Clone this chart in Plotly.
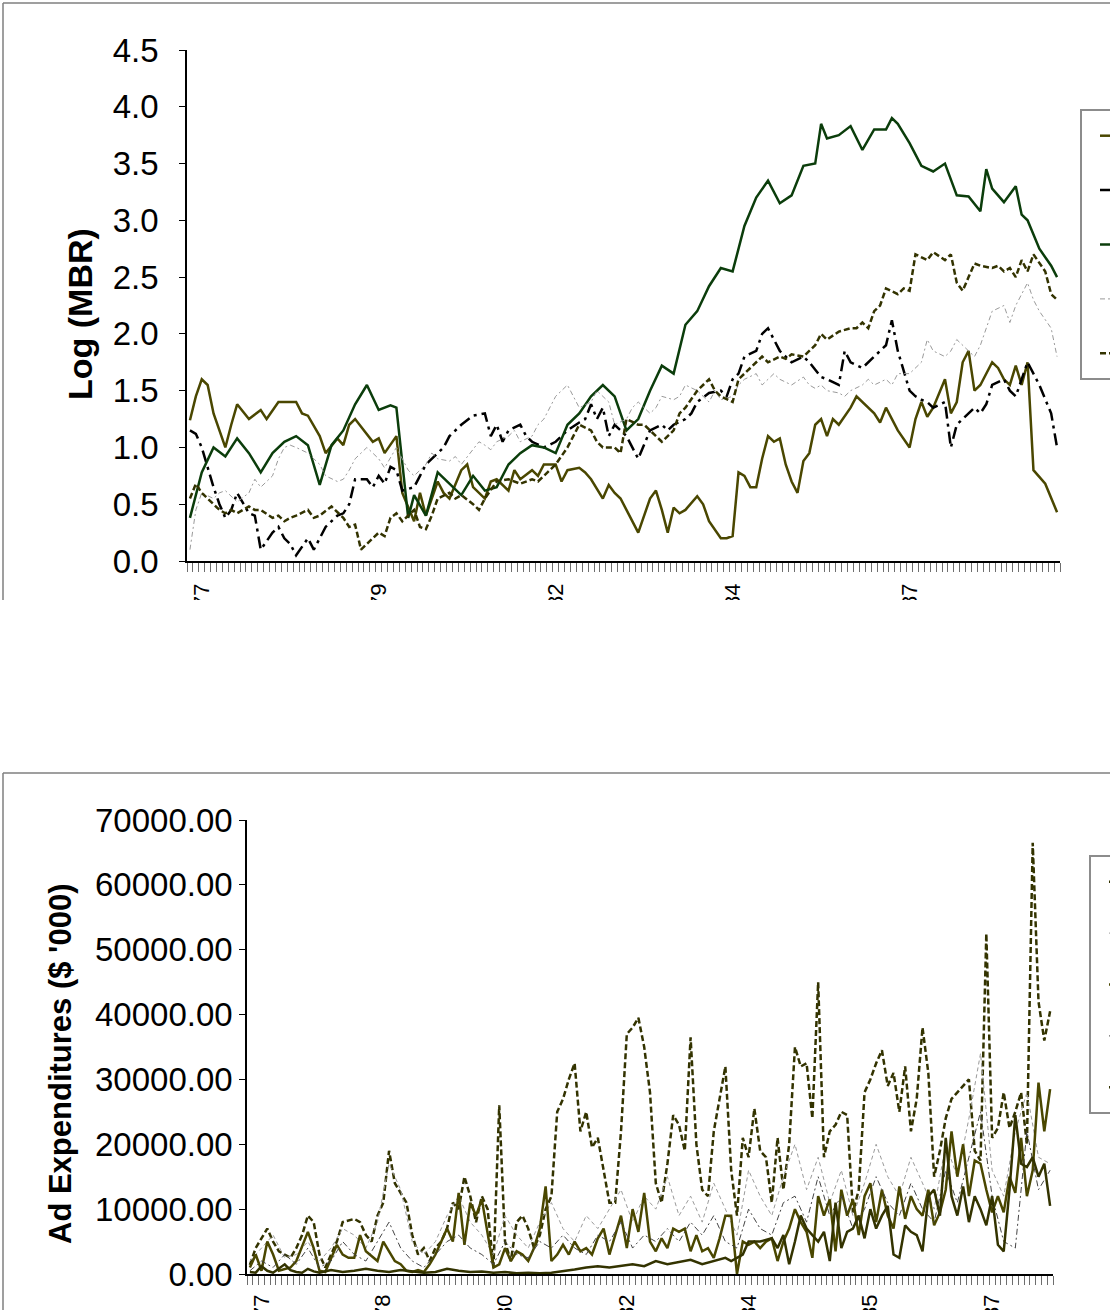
import plotly.graph_objects as go

W, H = 1110, 1310

# ---------------- Top panel: Log (MBR), 148 monthly periods ----------------
N_TOP = 148
top_tick_idx = [2, 32, 62, 92, 122]
top_tick_text = ["Jan-1977", "Jul-1979", "Jan-1982", "Jul-1984", "Jan-1987"]

mbr_green_idx = [0, 2, 4, 6, 8, 10, 12, 14, 16, 18, 20, 22, 24, 26, 28, 30, 32, 34, 35, 37, 38, 40,
                 42, 44, 46, 48, 50, 52, 54, 56, 58, 60, 62, 64, 66, 68, 70, 72, 74, 76, 78, 80, 82,
                 84, 86, 88, 90, 92, 94, 96, 98, 100, 102, 104, 106, 107, 108, 110, 112, 114, 116,
                 118, 119, 120, 122, 124, 126, 128, 130, 132, 134, 135, 136, 138, 140, 141, 142,
                 144, 146, 147]
mbr_green = [0.38, 0.78, 1.0, 0.92, 1.08, 0.95, 0.78, 0.95, 1.05, 1.1, 1.02, 0.67, 1.02, 1.15, 1.38,
             1.55, 1.33, 1.37, 1.35, 0.38, 0.58, 0.4, 0.78, 0.68, 0.58, 0.75, 0.62, 0.65, 0.85, 0.95,
             1.02, 1.0, 0.95, 1.2, 1.3, 1.45, 1.55, 1.45, 1.15, 1.25, 1.5, 1.72, 1.65, 2.08, 2.2,
             2.42, 2.58, 2.55, 2.95, 3.2, 3.35, 3.15, 3.22, 3.48, 3.5, 3.85, 3.72, 3.75, 3.83, 3.62,
             3.8, 3.8, 3.9, 3.85, 3.68, 3.48, 3.43, 3.5, 3.22, 3.21, 3.08, 3.45, 3.28, 3.16, 3.3,
             3.05, 3.0, 2.75, 2.6, 2.5]

mbr_olive_idx = [0, 1, 2, 3, 4, 6, 7, 8, 10, 12, 13, 15, 18, 19, 20, 22, 23, 25, 26, 27, 28, 30, 31,
                 32, 33, 35, 36, 38, 39, 40, 42, 43, 44, 46, 47, 48, 50, 51, 52, 54, 55, 56, 58, 59,
                 60, 62, 63, 64, 66, 67, 68, 70, 71, 72, 73, 74, 75, 76, 78, 79, 80, 81, 82, 83, 84,
                 86, 87, 88, 90, 91, 92, 93, 94, 95, 96, 97, 98, 99, 100, 101, 102, 103, 104, 105,
                 106, 107, 108, 109, 110, 112, 113, 114, 116, 117, 118, 120, 122, 123, 124, 125, 126,
                 128, 129, 130, 131, 132, 133, 134, 135, 136, 137, 138, 139, 140, 141, 142, 143, 145,
                 147]
mbr_olive = [1.24, 1.45, 1.6, 1.55, 1.3, 1.0, 1.2, 1.38, 1.25, 1.33, 1.25, 1.4, 1.4, 1.3, 1.28, 1.1,
             0.95, 1.08, 1.02, 1.2, 1.25, 1.12, 1.05, 1.08, 0.95, 1.1, 0.6, 0.35, 0.6, 0.4, 0.7, 0.6,
             0.55, 0.8, 0.85, 0.65, 0.55, 0.7, 0.72, 0.62, 0.8, 0.72, 0.8, 0.75, 0.85, 0.85, 0.7, 0.8,
             0.82, 0.78, 0.72, 0.55, 0.67, 0.6, 0.55, 0.45, 0.35, 0.25, 0.55, 0.62, 0.45, 0.25, 0.47,
             0.42, 0.45, 0.57, 0.5, 0.35, 0.2, 0.2, 0.22, 0.78, 0.75, 0.65, 0.65, 0.9, 1.1, 1.05,
             1.08, 0.85, 0.7, 0.6, 0.88, 0.95, 1.2, 1.25, 1.1, 1.25, 1.2, 1.35, 1.45, 1.4, 1.3, 1.22,
             1.35, 1.15, 1.0, 1.25, 1.4, 1.27, 1.35, 1.6, 1.3, 1.4, 1.75, 1.85, 1.5, 1.55, 1.65,
             1.75, 1.7, 1.6, 1.55, 1.72, 1.55, 1.75, 0.8, 0.68, 0.43]

mbr_black_idx = [0, 1, 2, 4, 5, 6, 7, 8, 10, 11, 12, 14, 15, 16, 17, 18, 20, 21, 22, 23, 25, 26, 27,
                 28, 30, 31, 32, 33, 34, 35, 36, 38, 39, 40, 42, 43, 44, 46, 48, 50, 51, 52, 53, 54,
                 56, 57, 58, 60, 62, 63, 64, 66, 67, 68, 69, 70, 71, 72, 74, 76, 78, 80, 81, 82, 84,
                 85, 86, 88, 90, 91, 92, 93, 94, 96, 97, 98, 100, 101, 102, 104, 105, 107, 108, 110,
                 111, 112, 114, 116, 117, 118, 119, 120, 122, 123, 124, 125, 126, 128, 129, 130, 132,
                 133, 134, 135, 136, 138, 139, 140, 142, 143, 144, 146, 147]
mbr_black = [1.15, 1.12, 1.0, 0.65, 0.5, 0.38, 0.45, 0.6, 0.42, 0.4, 0.1, 0.25, 0.3, 0.2, 0.15, 0.05,
             0.2, 0.1, 0.2, 0.3, 0.4, 0.42, 0.5, 0.72, 0.72, 0.65, 0.75, 0.68, 0.83, 0.8, 0.62, 0.65,
             0.75, 0.85, 0.95, 1.0, 1.1, 1.2, 1.28, 1.3, 1.1, 1.2, 1.05, 1.15, 1.2, 1.1, 1.05, 1.0,
             1.05, 1.1, 1.15, 1.22, 1.25, 1.38, 1.25, 1.35, 1.1, 1.2, 1.1, 0.9, 1.15, 1.2, 1.15, 1.2,
             1.25, 1.3, 1.4, 1.48, 1.5, 1.45, 1.6, 1.65, 1.8, 1.85, 2.0, 2.05, 1.85, 1.8, 1.75, 1.8,
             1.75, 1.62, 1.6, 1.55, 1.85, 1.75, 1.7, 1.8, 1.85, 1.9, 2.12, 1.85, 1.5, 1.45, 1.42,
             1.4, 1.35, 1.4, 1.0, 1.2, 1.3, 1.35, 1.3, 1.38, 1.55, 1.6, 1.5, 1.45, 1.75, 1.65, 1.55,
             1.3, 1.0]

mbr_dash_idx = [0, 1, 2, 4, 5, 6, 7, 8, 10, 11, 12, 14, 15, 16, 17, 18, 20, 21, 22, 24, 26, 27, 28,
                29, 30, 32, 33, 34, 35, 36, 38, 39, 40, 41, 42, 44, 45, 46, 48, 49, 50, 51, 52, 54,
                55, 56, 58, 59, 60, 61, 62, 64, 65, 66, 68, 69, 70, 72, 73, 74, 76, 77, 78, 79, 80,
                82, 83, 84, 86, 88, 89, 90, 92, 93, 94, 96, 97, 98, 100, 101, 102, 104, 105, 106,
                107, 108, 110, 112, 113, 114, 115, 116, 117, 118, 120, 121, 122, 123, 125, 126, 128,
                129, 130, 131, 132, 133, 134, 136, 137, 138, 139, 140, 141, 142, 143, 144, 145, 146,
                147]
mbr_dash = [0.55, 0.68, 0.6, 0.5, 0.45, 0.42, 0.45, 0.42, 0.48, 0.45, 0.45, 0.38, 0.4, 0.35, 0.38,
            0.4, 0.45, 0.38, 0.4, 0.48, 0.38, 0.3, 0.32, 0.1, 0.15, 0.25, 0.22, 0.38, 0.42, 0.35,
            0.45, 0.3, 0.28, 0.4, 0.55, 0.6, 0.55, 0.58, 0.5, 0.45, 0.55, 0.62, 0.7, 0.72, 0.7,
            0.68, 0.72, 0.7, 0.75, 0.8, 0.85, 1.0, 1.1, 1.2, 1.15, 1.05, 1.0, 1.0, 0.95, 1.25, 1.2,
            1.2, 1.15, 1.1, 1.05, 1.15, 1.3, 1.35, 1.5, 1.6, 1.5, 1.45, 1.4, 1.6, 1.65, 1.75, 1.8,
            1.75, 1.8, 1.78, 1.82, 1.8, 1.85, 1.9, 2.0, 1.95, 2.02, 2.05, 2.05, 2.1, 2.05, 2.2,
            2.25, 2.4, 2.35, 2.4, 2.38, 2.7, 2.65, 2.72, 2.65, 2.7, 2.45, 2.38, 2.5, 2.62, 2.6,
            2.58, 2.6, 2.55, 2.58, 2.5, 2.65, 2.55, 2.7, 2.62, 2.55, 2.35, 2.3]

mbr_gray_idx = [0, 1, 2, 4, 5, 6, 8, 10, 11, 12, 14, 15, 16, 17, 18, 20, 21, 22, 23, 25, 26, 27, 28,
                30, 31, 32, 33, 35, 36, 37, 38, 40, 41, 42, 44, 45, 46, 48, 49, 50, 51, 52, 54, 55,
                56, 58, 59, 60, 61, 62, 64, 65, 66, 68, 69, 70, 71, 72, 74, 75, 76, 78, 79, 80, 82,
                83, 84, 86, 87, 88, 89, 90, 92, 93, 94, 96, 97, 98, 99, 100, 102, 104, 105, 106, 107,
                108, 110, 111, 112, 114, 115, 116, 118, 119, 120, 122, 123, 124, 125, 126, 128, 129,
                130, 132, 133, 134, 135, 136, 138, 139, 140, 142, 143, 144, 146, 147]
mbr_gray = [0.1, 0.45, 0.6, 0.55, 0.6, 0.62, 0.52, 0.6, 0.72, 0.65, 0.75, 0.9, 1.0, 1.02, 1.0, 0.95,
            0.9, 0.85, 0.75, 0.7, 0.72, 0.8, 0.9, 1.0, 0.95, 0.9, 0.82, 1.0, 0.9, 0.8, 0.75, 0.85,
            0.95, 0.9, 0.88, 0.92, 0.85, 0.98, 1.05, 1.02, 0.98, 1.05, 1.1, 1.15, 1.05, 1.1, 1.2,
            1.25, 1.35, 1.45, 1.55, 1.45, 1.35, 1.4, 1.5, 1.45, 1.4, 1.2, 1.25, 1.35, 1.4, 1.3,
            1.35, 1.45, 1.42, 1.45, 1.55, 1.5, 1.45, 1.4, 1.5, 1.42, 1.45, 1.55, 1.6, 1.65, 1.55,
            1.6, 1.65, 1.6, 1.55, 1.62, 1.55, 1.52, 1.55, 1.5, 1.48, 1.45, 1.5, 1.55, 1.6, 1.55,
            1.6, 1.55, 1.65, 1.65, 1.7, 1.75, 1.95, 1.85, 1.8, 1.85, 1.95, 1.85, 1.8, 1.9, 2.05,
            2.2, 2.25, 2.1, 2.25, 2.45, 2.3, 2.2, 2.05, 1.8]

# ---------------- Bottom panel: Ad expenditures, 139 periods ----------------
N_BOT = 139
bot_tick_idx = [2, 23, 44, 65, 86, 107, 128]
bot_tick_text = ["Jan-1977", "Oct-1978", "Jul-1980", "Apr-1982", "Jan-1984", "Oct-1985", "Jul-1987"]

ad_dash_idx = [0, 1, 3, 4, 5, 7, 8, 9, 10, 11, 12, 13, 15, 16, 18, 19, 20, 21, 22, 23, 24, 25, 27,
               28, 29, 30, 31, 32, 33, 34, 35, 36, 37, 38, 39, 40, 41, 42, 43, 44, 45, 46, 47, 48,
               49, 50, 51, 52, 53, 54, 55, 56, 57, 58, 59, 60, 61, 62, 63, 64, 65, 66, 67, 68, 69,
               70, 71, 72, 73, 74, 75, 76, 77, 78, 79, 80, 81, 82, 83, 84, 85, 86, 87, 88, 89, 90,
               91, 92, 93, 94, 95, 96, 97, 98, 99, 100, 101, 102, 103, 104, 105, 106, 107, 108, 109,
               110, 111, 112, 113, 114, 115, 116, 117, 118, 119, 120, 121, 122, 123, 124, 125, 126,
               127, 128, 129, 130, 131, 132, 133, 134, 135, 136, 137, 138]
ad_dash = [1400, 4000, 7000, 5000, 3500, 2500, 4000, 6000, 9000, 8000, 3000, 1000, 5000, 8000, 8500,
           8000, 6000, 5000, 9000, 11000, 19000, 14000, 11000, 6000, 3000, 4000, 2000, 4000, 5000,
           7000, 11000, 10000, 15000, 12000, 8000, 12000, 10000, 1000, 26000, 5000, 2000, 8000,
           9000, 7000, 4000, 6000, 10000, 12000, 25000, 27000, 30000, 32500, 22000, 25000, 19500,
           21000, 16000, 11000, 11000, 22000, 37000, 38000, 39500, 35000, 28000, 14000, 11000,
           17000, 24500, 23000, 19000, 36500, 20000, 13000, 12000, 22000, 27000, 32000, 16000,
           9000, 21000, 18000, 25500, 19000, 18000, 11000, 21000, 13000, 20000, 35000, 32000,
           32500, 24000, 45000, 18000, 22000, 23000, 25000, 24500, 9500, 13000, 28000, 30000,
           32500, 34500, 29000, 31000, 25000, 32000, 22000, 27000, 38000, 31000, 15000, 19000,
           24000, 27000, 28000, 29000, 30000, 19000, 17500, 52500, 21000, 22500, 28000, 22500,
           25000, 28000, 20000, 66500, 42000, 36000, 40500]

ad_gray_idx = list(range(0, 139, 2))
ad_gray = [2000, 4000, 6000, 2500, 3000, 5000, 2000, 4000, 7000, 6000, 4000, 8000, 17000, 13000,
           5000, 3000, 5000, 9000, 12000, 8000, 6000, 3000, 9000, 6000, 4000, 8000, 11000, 7000,
           5000, 9000, 7000, 10000, 13000, 8000, 12000, 10000, 15000, 9000, 12000, 8000, 14000,
           10000, 6000, 16000, 12000, 9000, 15000, 20000, 13000, 18000, 11000, 16000, 9000, 14000,
           20000, 15000, 12000, 18000, 14000, 10000, 20000, 15000, 24000, 34000, 16000, 12000,
           22000, 28000, 18000, 17000]

ad_olive_idx = [0, 1, 2, 3, 4, 5, 7, 8, 10, 11, 12, 13, 15, 16, 17, 18, 19, 20, 22, 23, 24, 25, 26,
                27, 28, 29, 30, 31, 32, 33, 34, 35, 36, 37, 38, 39, 40, 42, 43, 44, 45, 46, 47, 48,
                49, 50, 51, 52, 53, 54, 55, 56, 57, 58, 59, 60, 61, 62, 64, 65, 66, 67, 68, 69, 70,
                71, 72, 73, 74, 75, 76, 77, 78, 79, 80, 81, 82, 83, 84, 85, 86, 87, 88, 89, 90, 91,
                92, 93, 94, 95, 96, 97, 98, 99, 100, 101, 102, 103, 104, 105, 106, 107, 108, 109,
                110, 111, 112, 113, 114, 115, 116, 117, 118, 119, 120, 121, 122, 123, 124, 125, 126,
                127, 128, 129, 130, 131, 132, 133, 134, 135, 136, 137, 138]
ad_olive = [1000, 3000, 500, 5000, 3000, 500, 1000, 2000, 6500, 4000, 500, 300, 4500, 3000, 2500,
            2500, 6000, 3500, 2000, 5000, 3500, 2000, 1500, 500, 300, 600, 300, 1500, 3000, 5000,
            7000, 5000, 12500, 4500, 11000, 9000, 11500, 1000, 1500, 4000, 2000, 3500, 3000, 2000,
            4000, 7000, 13500, 2000, 3000, 4500, 3000, 5000, 3500, 4000, 3000, 5500, 7000, 3000,
            9000, 4000, 10000, 6500, 12500, 5000, 3500, 5500, 4000, 7000, 6500, 7000, 3500, 6000,
            3500, 4000, 2500, 5500, 9000, 9000, 0, 5000, 4500, 5000, 4000, 5000, 5500, 2000, 5000,
            7000, 10000, 8000, 6500, 2500, 12000, 9000, 11500, 3500, 13000, 9000, 11500, 6000,
            12000, 14000, 8000, 13000, 9000, 7000, 13500, 8500, 12000, 10000, 9000, 13000, 7500,
            9500, 13000, 22000, 15000, 20000, 12000, 17500, 17000, 13000, 9500, 12000, 9500, 15000,
            12500, 21000, 12000, 16000, 29500, 22000, 28500]

ad_dark_idx = list(range(0, 139, 2))
ad_dark = [500, 2000, 1000, 3000, 1500, 4000, 1000, 2000, 5000, 3000, 2000, 5000, 8000, 4000, 2000,
           1000, 3000, 5000, 6000, 4000, 3000, 1500, 5000, 3000, 2500, 5000, 4000, 6000, 4000,
           3000, 6000, 5000, 8000, 4000, 6000, 5000, 7000, 5000, 8000, 6000, 9000, 5000, 4000,
           10000, 7000, 6000, 11000, 12000, 8000, 15000, 9000, 12000, 7000, 10000, 15000, 11000,
           9000, 14000, 10000, 8000, 16000, 11000, 18000, 25000, 12000, 5000, 4000, 22000, 13000,
           16000]

ad_low_idx = [0, 1, 2, 3, 4, 5, 6, 7, 8, 9, 10, 11, 12, 14, 16, 18, 20, 22, 24, 26, 28, 30, 32, 34,
              36, 38, 40, 42, 44, 46, 48, 50, 52, 54, 56, 58, 60, 62, 64, 66, 68, 70, 72, 74, 76,
              78, 80, 82, 83, 85, 86, 88, 90, 91, 92, 93, 94, 95, 96, 98, 99, 100, 101, 102, 103,
              104, 105, 106, 107, 108, 109, 110, 111, 112, 113, 114, 115, 116, 117, 118, 119, 120,
              121, 122, 123, 124, 125, 126, 127, 128, 129, 130, 131, 132, 133, 134, 135, 136, 137,
              138]
ad_low = [300, 200, 1200, 500, 200, 800, 1500, 600, 300, 200, 800, 400, 200, 600, 300, 500, 800,
          500, 300, 600, 400, 200, 300, 800, 500, 300, 400, 200, 300, 100, 200, 100, 200, 400, 700,
          1000, 1200, 1000, 1300, 1500, 1200, 2000, 1500, 1800, 2200, 1500, 2000, 2500, 2000, 3000,
          5000, 5000, 5500, 4000, 6000, 1500, 5000, 9000, 7000, 5000, 6500, 2000, 11000, 4000,
          6500, 7000, 9000, 5500, 10000, 7000, 9000, 10500, 3000, 2500, 7500, 6500, 6000, 3500,
          12000, 13000, 9000, 21000, 12000, 9000, 13500, 8000, 12000, 10000, 7500, 12000, 4500,
          3500, 13000, 24500, 17000, 16500, 18000, 15000, 17000, 10500]

FONT = "Liberation Sans, Arial, sans-serif"
OLIVE = "#4a4700"
DARK_OLIVE = "#333300"
GREEN = "#0b3d0b"

fig = go.Figure()

def add(x, y, name, color, width, dash, xa, ya, legend):
    fig.add_trace(go.Scatter(
        x=x, y=y, mode="lines", name=name, legendgroup=name,
        line=dict(color=color, width=width, dash=dash),
        xaxis=xa, yaxis=ya, legend=legend, hoverinfo="skip"))

# top panel series (legend order)
add(mbr_olive_idx, mbr_olive, "Firm A", OLIVE, 2.5, "solid", "x", "y", "legend")
add(mbr_black_idx, mbr_black, "Firm B", "#000000", 2.5, "12px,5px,3px,5px", "x", "y", "legend")
add(mbr_green_idx, mbr_green, "Firm C", GREEN, 2.5, "solid", "x", "y", "legend")
add(mbr_gray_idx, mbr_gray, "Firm D", "#9a9a9a", 1, "5px,3px,2px,3px", "x", "y", "legend")
add(mbr_dash_idx, mbr_dash, "Firm E", DARK_OLIVE, 2.5, "6px,3px", "x", "y", "legend")

# bottom panel series (legend order)
add(ad_dash_idx, ad_dash, "Firm A ", DARK_OLIVE, 2.5, "6px,3px", "x2", "y2", "legend2")
add(ad_gray_idx, ad_gray, "Firm B ", "#9a9a9a", 1, "4px,3px", "x2", "y2", "legend2")
add(ad_olive_idx, ad_olive, "Firm C ", OLIVE, 2.5, "solid", "x2", "y2", "legend2")
add(ad_dark_idx, ad_dark, "Firm D ", "#444444", 1, "6px,3px,2px,3px", "x2", "y2", "legend2")
add(ad_low_idx, ad_low, "Firm E ", DARK_OLIVE, 2.5, "solid", "x2", "y2", "legend2")

def px_x(p):
    return p / W

def px_y(p):
    return 1 - p / H

minor = dict(tickmode="linear", tick0=-0.5, dtick=1, ticks="outside", ticklen=9,
             tickcolor="#6e6e6e", tickwidth=1)

fig.update_layout(
    width=W, height=H,
    margin=dict(l=0, r=0, t=0, b=0, autoexpand=False),
    paper_bgcolor="white", plot_bgcolor="white",
    font=dict(family=FONT, color="black"),
    showlegend=True,
    xaxis=dict(domain=[px_x(187), px_x(1060)], range=[-0.5, N_TOP - 0.5],
               showline=True, linecolor="black", linewidth=1.5, showgrid=False, zeroline=False,
               tickmode="array", tickvals=top_tick_idx, ticktext=top_tick_text,
               ticks="", tickangle=-90, ticklabelstandoff=12,
               tickfont=dict(size=22, family=FONT), minor=minor, anchor="y"),
    yaxis=dict(domain=[px_y(561), px_y(50)], range=[0, 4.5], dtick=0.5, tick0=0,
               tickformat=".1f", showline=True, linecolor="black", linewidth=1.5,
               showgrid=False, zeroline=False, ticks="outside", ticklen=6, tickcolor="black",
               ticklabelstandoff=14, tickfont=dict(size=33, family=FONT), anchor="x"),
    xaxis2=dict(domain=[px_x(247), px_x(1053)], range=[-0.5, N_BOT - 0.5],
                showline=True, linecolor="black", linewidth=1.5, showgrid=False, zeroline=False,
                tickmode="array", tickvals=bot_tick_idx, ticktext=bot_tick_text,
                ticks="", tickangle=-90, ticklabelstandoff=10,
                tickfont=dict(size=22, family=FONT), minor=minor, anchor="y2"),
    yaxis2=dict(domain=[px_y(1274), px_y(820)], range=[0, 70000], dtick=10000, tick0=0,
                tickformat=".2f", showline=True, linecolor="black", linewidth=1.5,
                showgrid=False, zeroline=False, ticks="outside", ticklen=6, tickcolor="black",
                ticklabelstandoff=0, tickfont=dict(size=33, family=FONT), anchor="x2"),
    legend=dict(x=px_x(1080), y=px_y(109), xanchor="left", yanchor="top",
                bordercolor="#8c8c8c", borderwidth=2, bgcolor="white",
                font=dict(size=28, family=FONT), tracegroupgap=15, indentation=13),
    legend2=dict(x=px_x(1089), y=px_y(855), xanchor="left", yanchor="top",
                 bordercolor="#8c8c8c", borderwidth=2, bgcolor="white",
                 font=dict(size=28, family=FONT), tracegroupgap=12, indentation=13),
)

# axis titles
fig.add_annotation(text="<b>Log (MBR)</b>", xref="paper", yref="paper",
                   x=px_x(80), y=px_y(314), xanchor="center", yanchor="middle",
                   textangle=-90, showarrow=False,
                   font=dict(size=34, family=FONT, color="black"))
fig.add_annotation(text="<b>Ad Expenditures ($ '000)</b>", xref="paper", yref="paper",
                   x=px_x(60), y=px_y(1064), xanchor="center", yanchor="middle",
                   textangle=-90, showarrow=False,
                   font=dict(size=31, family=FONT, color="black"))

FRAME = "#7f7f7f"
shapes = [
    # blank strip between the two panels (hides the clipped date labels)
    dict(type="rect", xref="paper", yref="paper", x0=0, x1=1, y0=px_y(772), y1=px_y(600),
         fillcolor="white", line=dict(width=0), layer="above"),
    # chart frames
    dict(type="line", xref="paper", yref="paper", x0=px_x(3), x1=px_x(3), y0=px_y(600), y1=px_y(3),
         line=dict(color=FRAME, width=1.5), layer="above"),
    dict(type="line", xref="paper", yref="paper", x0=px_x(3), x1=1, y0=px_y(3), y1=px_y(3),
         line=dict(color=FRAME, width=1.5), layer="above"),
    dict(type="line", xref="paper", yref="paper", x0=px_x(3), x1=px_x(3), y0=0, y1=px_y(773),
         line=dict(color=FRAME, width=1.5), layer="above"),
    dict(type="line", xref="paper", yref="paper", x0=px_x(3), x1=1, y0=px_y(773), y1=px_y(773),
         line=dict(color=FRAME, width=1.5), layer="above"),
]
fig.update_layout(shapes=shapes)

fig.write_html("out.html")
